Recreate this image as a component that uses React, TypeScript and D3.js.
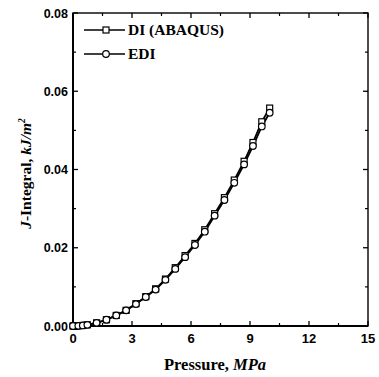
import React from 'react';
import * as d3 from 'd3';

// pressure (MPa) and J-integral (kJ/m^2)
const pressureDI = [0, 0.05, 0.1, 0.15, 0.25, 0.5, 0.73, 1.2, 1.7, 2.2, 2.7, 3.2, 3.7, 4.2, 4.7, 5.2, 5.7, 6.2, 6.7, 7.2, 7.7, 8.2, 8.7, 9.15, 9.6, 10];
const jDI = [0, 0, 0, 0.00001, 0.00003, 0.00014, 0.0003, 0.0008, 0.0016, 0.0027, 0.004, 0.0057, 0.0075, 0.0095, 0.012, 0.0149, 0.018, 0.0211, 0.0246, 0.0287, 0.0328, 0.0373, 0.0421, 0.0469, 0.0522, 0.0557];
const pressureEDI = [0, 0.27, 0.5, 0.73, 1.2, 1.7, 2.2, 2.7, 3.2, 3.7, 4.2, 4.7, 5.2, 5.7, 6.2, 6.7, 7.2, 7.7, 8.2, 8.7, 9.15, 9.6, 10];
const jEDI = [0, 0.00004, 0.00014, 0.0003, 0.0008, 0.0016, 0.0027, 0.004, 0.0056, 0.0074, 0.0093, 0.0118, 0.0146, 0.0176, 0.0207, 0.0241, 0.0282, 0.0322, 0.0366, 0.0413, 0.046, 0.051, 0.0545];

const xTicks = [0, 3, 6, 9, 12, 15];
const xMinor = [1.5, 4.5, 7.5, 10.5, 13.5];
const yTicks = [0, 0.02, 0.04, 0.06, 0.08];
const yMinor = [0.01, 0.03, 0.05, 0.07];

const W = 379;
const H = 377;
const margin = { top: 13, right: 11, bottom: 51, left: 73 };

const App: React.FC = () => {
  const x = d3.scaleLinear().domain([0, 15]).range([margin.left, W - margin.right]);
  const y = d3.scaleLinear().domain([0, 0.08]).range([H - margin.bottom, margin.top]);
  const x0 = x(0), x1 = x(15), y0 = y(0), y1 = y(0.08);

  const line = d3.line<[number, number]>().x(d => x(d[0])).y(d => y(d[1]));
  const di: [number, number][] = pressureDI.map((p, i) => [p, jDI[i]]);
  const edi: [number, number][] = pressureEDI.map((p, i) => [p, jEDI[i]]);

  const sans = '"Liberation Sans", Arial, sans-serif';
  const serif = '"Liberation Serif", "Times New Roman", serif';

  return (
    <svg width={W} height={H} style={{ position: 'absolute', left: 0, top: 0, background: '#fff' }}>
      {/* frame */}
      <rect x={x0} y={y1} width={x1 - x0} height={y0 - y1} fill="none" stroke="#000" strokeWidth={1.4} />
      <line x1={x0} x2={x0} y1={y1} y2={y0} stroke="#000" strokeWidth={2} />
      <line x1={x0} x2={x1} y1={y0} y2={y0} stroke="#000" strokeWidth={2} />

      {/* x ticks */}
      {xTicks.map(t => (
        <g key={'xt' + t}>
          <line x1={x(t)} x2={x(t)} y1={y0} y2={y0 - 5} stroke="#000" strokeWidth={1.3} />
          <line x1={x(t)} x2={x(t)} y1={y1} y2={y1 + 5} stroke="#000" strokeWidth={1.3} />
          <text x={x(t)} y={y0 + 17} textAnchor="middle" fontFamily={sans} fontWeight="bold" fontSize={13}>{t}</text>
        </g>
      ))}
      {xMinor.map(t => (
        <g key={'xm' + t}>
          <line x1={x(t)} x2={x(t)} y1={y0} y2={y0 - 3} stroke="#000" strokeWidth={1.2} />
          <line x1={x(t)} x2={x(t)} y1={y1} y2={y1 + 3} stroke="#000" strokeWidth={1.2} />
        </g>
      ))}

      {/* y ticks */}
      {yTicks.map(t => (
        <g key={'yt' + t}>
          <line x1={x0} x2={x0 + 5} y1={y(t)} y2={y(t)} stroke="#000" strokeWidth={1.3} />
          <line x1={x1} x2={x1 - 5} y1={y(t)} y2={y(t)} stroke="#000" strokeWidth={1.3} />
          <text x={x0 - 5} y={y(t) + 4.5} textAnchor="end" fontFamily={sans} fontWeight="bold" fontSize={12.5}>{t.toFixed(2)}</text>
        </g>
      ))}
      {yMinor.map(t => (
        <g key={'ym' + t}>
          <line x1={x0} x2={x0 + 3} y1={y(t)} y2={y(t)} stroke="#000" strokeWidth={1.2} />
          <line x1={x1} x2={x1 - 3} y1={y(t)} y2={y(t)} stroke="#000" strokeWidth={1.2} />
        </g>
      ))}

      {/* series */}
      <path d={line(di) || ''} fill="none" stroke="#000" strokeWidth={1.8} />
      <path d={line(edi) || ''} fill="none" stroke="#000" strokeWidth={1.8} />
      {di.map((d, i) => (
        <rect key={'s' + i} x={x(d[0]) - 3} y={y(d[1]) - 3} width={6} height={6} fill="#fff" stroke="#000" strokeWidth={1.2} />
      ))}
      {edi.map((d, i) => (
        <circle key={'c' + i} cx={x(d[0])} cy={y(d[1])} r={3.3} fill="#fff" stroke="#000" strokeWidth={1.2} />
      ))}

      {/* legend */}
      <line x1={84} x2={125} y1={30} y2={30} stroke="#000" strokeWidth={1.4} />
      <rect x={103} y={27} width={6} height={6} fill="#fff" stroke="#000" strokeWidth={1.2} />
      <text x={128} y={35} fontFamily={serif} fontWeight="bold" fontSize={15.5}>DI (ABAQUS)</text>
      <line x1={84} x2={125} y1={54} y2={54} stroke="#000" strokeWidth={1.4} />
      <circle cx={106} cy={54} r={3.3} fill="#fff" stroke="#000" strokeWidth={1.2} />
      <text x={128} y={59} fontFamily={serif} fontWeight="bold" fontSize={15.5}>EDI</text>

      {/* axis titles */}
      <text x={215} y={370} textAnchor="middle" fontFamily={serif} fontWeight="bold" fontSize={16.5}>
        Pressure, <tspan fontStyle="italic">MPa</tspan>
      </text>
      <text transform={`translate(31,${(y0 + y1) / 2 + 4}) rotate(-90)`} textAnchor="middle" fontFamily={serif} fontWeight="bold" fontSize={15.5}>
        <tspan fontStyle="italic">J</tspan>-Integral, <tspan fontStyle="italic">kJ/m</tspan>
        <tspan fontStyle="italic" fontSize={9.5} dy={-6}>2</tspan>
      </text>
    </svg>
  );
};

export default App;
